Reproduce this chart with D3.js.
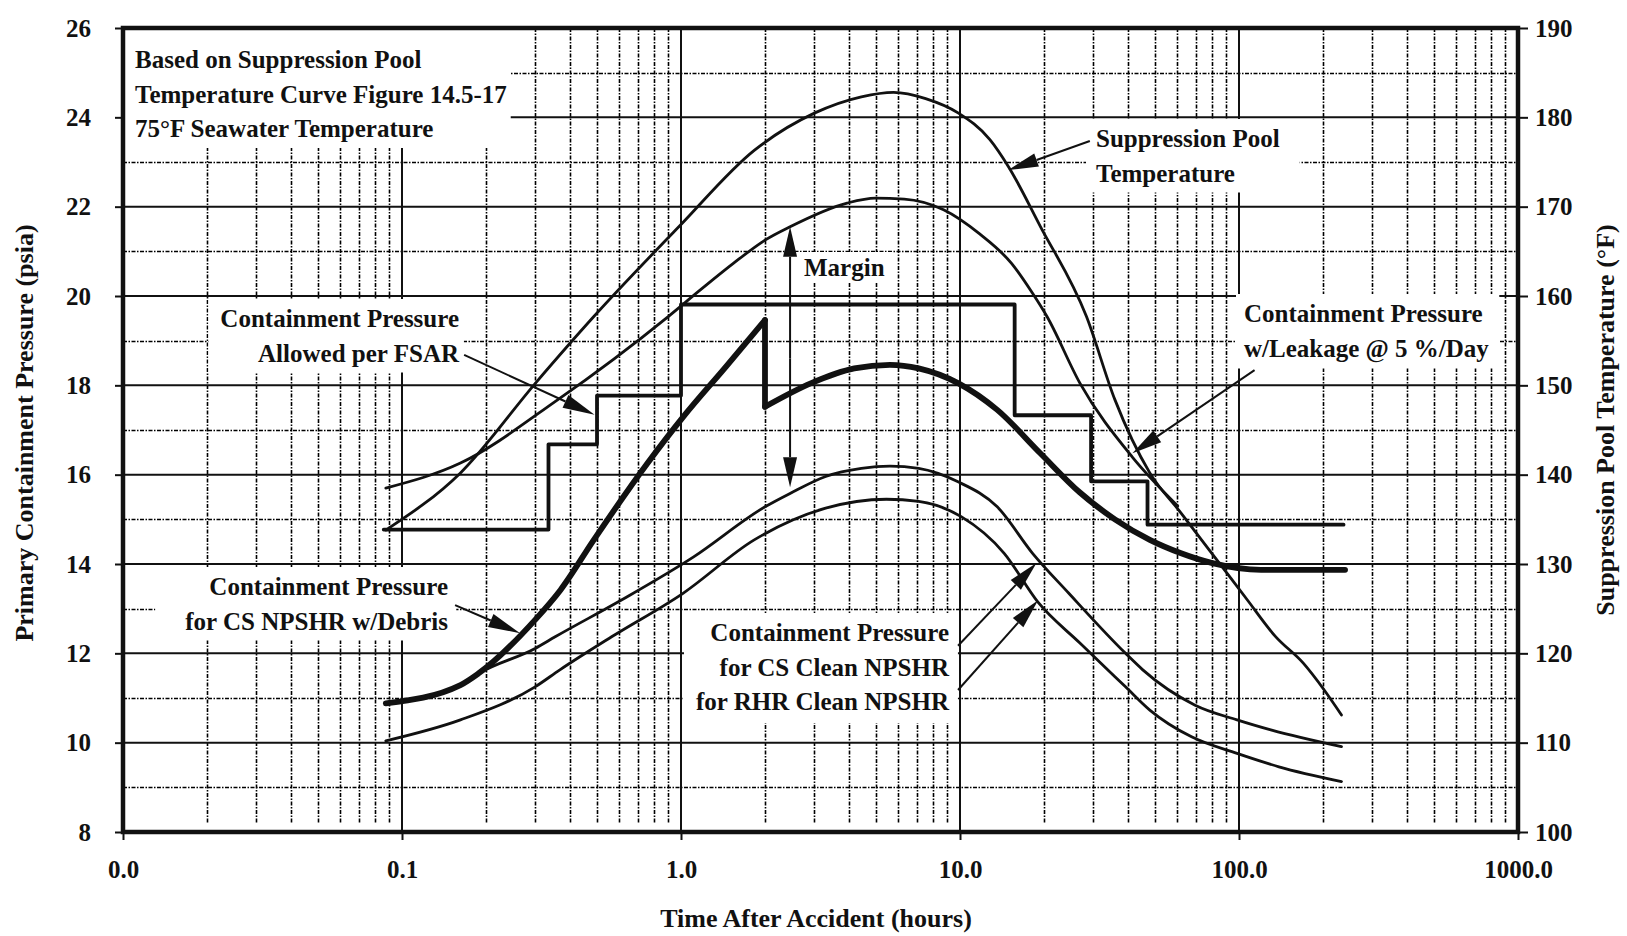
<!DOCTYPE html>
<html>
<head>
<meta charset="utf-8">
<script src="https://cdn.jsdelivr.net/npm/d3@7"></script>
<style>
  body { margin: 0; background: #fff; }
  svg text { font-family: "Liberation Serif", "Times New Roman", serif; font-weight: bold; fill: #111; }
</style>
</head>
<body>
<svg id="chart" width="1627" height="936"></svg>
<script>
// values (hours after accident)
const tempHours = [0.0875, 0.162, 0.30, 0.487, 0.986, 1.83, 3.02, 4.43, 5.78, 7.53, 9.84, 12.8, 14.9, 19.4, 28.4, 35.9, 47.9, 62, 85, 107, 135, 170, 202, 233];
const tempF = [133.8, 140.2, 150.2, 157.7, 167.8, 176.3, 180.5, 182.3, 182.8, 182.1, 180.5, 177.5, 174.5, 167.8, 157.7, 148.4, 140.2, 135.7, 130.1, 126.0, 121.9, 118.9, 115.9, 113.1];

const leakHours = [0.0875, 0.162, 0.36, 0.90, 1.17, 1.54, 2.0, 2.46, 3.94, 4.98, 6.31, 8.73, 11.7, 15.3, 18.2, 20.5, 26.9, 41.4, 60.3];
const leakPsia = [15.70, 16.26, 17.67, 19.54, 20.13, 20.73, 21.25, 21.55, 22.08, 22.19, 22.17, 21.93, 21.40, 20.73, 20.06, 19.54, 18.05, 16.40, 15.30];

const debrisHours = [0.0875, 0.162, 0.188, 0.30, 0.37, 0.487, 0.757, 1.02, 1.45, 2.0, 2.0, 2.93, 4.18, 5.61, 7.11, 9.84, 13.6, 19.4, 26.9, 35.9, 47.9, 62, 80.3, 120, 240];
const debrisPsia = [10.88, 11.29, 11.55, 12.75, 13.42, 14.54, 16.25, 17.30, 18.42, 19.46, 17.52, 18.05, 18.38, 18.46, 18.38, 18.05, 17.45, 16.48, 15.60, 15.00, 14.54, 14.24, 14.02, 13.87, 13.87];

const csHours = [0.0875, 0.162, 0.188, 0.30, 0.354, 0.614, 1.11, 2.0, 2.46, 3.3, 4.43, 5.61, 7.11, 9.84, 13.6, 18.2, 24.5, 39.2, 45.2, 69.6, 98.4, 131, 233];
const csPsia = [10.88, 11.29, 11.55, 12.11, 12.37, 13.2, 14.16, 15.28, 15.58, 15.96, 16.14, 16.19, 16.14, 15.84, 15.28, 14.24, 13.35, 12.0, 11.63, 10.84, 10.51, 10.28, 9.91];

const rhrHours = [0.0875, 0.162, 0.30, 0.368, 0.564, 1.02, 1.83, 3.3, 5.45, 7.11, 10.1, 14.4, 19.0, 26.9, 39.2, 47.9, 67.6, 98.4, 139, 233];
const rhrPsia = [10.04, 10.51, 11.25, 11.63, 12.37, 13.35, 14.54, 15.25, 15.45, 15.40, 15.06, 14.24, 13.15, 12.23, 11.25, 10.73, 10.13, 9.76, 9.46, 9.13];

// allowed pressure is a staircase: each value holds until the next hour
const fsarHours = [0.086, 0.335, 0.50, 1.0, 15.7, 29.5, 47, 237];
const fsarPsia = [14.77, 16.68, 17.77, 19.81, 17.33, 15.85, 14.88, 14.88];

const xTickValues = [0.01, 0.1, 1, 10, 100, 1000];
const psiaTicks = [8, 10, 12, 14, 16, 18, 20, 22, 24, 26];
const degFTicks = [100, 110, 120, 130, 140, 150, 160, 170, 180, 190];

const width = 1627, height = 936;
const plot = { left: 123, right: 1518, top: 28, bottom: 832 };

const svg = d3.select("#chart");
svg.append("rect").attr("width", width).attr("height", height).attr("fill", "white");

const x = d3.scaleLog().domain([0.01, 1000]).range([plot.left, plot.right]);
const y = d3.scaleLinear().domain([8, 26]).range([plot.bottom, plot.top]);
const yT = d3.scaleLinear().domain([100, 190]).range([plot.bottom, plot.top]);

const zip = (a, b) => a.map((v, i) => [v, b[i]]);
const snap = v => Math.round(v) + 0.5;

// Grid
const grid = svg.append("g");
const minorX = x.ticks().filter(v => !xTickValues.includes(v));
const minorY = y.ticks(18).filter(v => !psiaTicks.includes(v));

grid.selectAll("line.mx").data(minorX).enter().append("line")
    .attr("x1", d => snap(x(d))).attr("x2", d => snap(x(d)))
    .attr("y1", plot.top).attr("y2", plot.bottom - 8)
    .attr("stroke", "#000").attr("stroke-width", 1.6).attr("stroke-dasharray", "4,1.5,1.5,1.5");
grid.selectAll("line.my").data(minorY).enter().append("line")
    .attr("x1", plot.left).attr("x2", plot.right)
    .attr("y1", d => snap(y(d))).attr("y2", d => snap(y(d)))
    .attr("stroke", "#000").attr("stroke-width", 1.6).attr("stroke-dasharray", "4,1.5,1.5,1.5");
grid.selectAll("line.Mx").data(xTickValues).enter().append("line")
    .attr("x1", d => x(d)).attr("x2", d => x(d))
    .attr("y1", plot.top).attr("y2", plot.bottom)
    .attr("stroke", "#111").attr("stroke-width", 2);
grid.selectAll("line.My").data(psiaTicks).enter().append("line")
    .attr("x1", plot.left).attr("x2", plot.right)
    .attr("y1", d => y(d)).attr("y2", d => y(d))
    .attr("stroke", "#111").attr("stroke-width", 2);

// Label boxes mask the grid, then labels go on top
const boxLayer = svg.append("g");
const curveLayer = svg.append("g");
const textLayer = svg.append("g");

function label(lines, px, py, anchor, pad) {
    const t = textLayer.append("text")
        .attr("x", px).attr("text-anchor", anchor)
        .attr("font-size", 25);
    lines.forEach((s, i) => {
        t.append("tspan").attr("x", px).attr("y", py + i * 34.5).text(s);
    });
    const b = t.node().getBBox();
    const p = Object.assign({ l: 8, r: 8, t: 6, b: 6 }, pad || {});
    boxLayer.append("rect")
        .attr("x", b.x - p.l).attr("y", b.y - p.t)
        .attr("width", b.width + p.l + p.r).attr("height", b.height + p.t + p.b)
        .attr("fill", "white");
}

label(["Based on Suppression Pool", "Temperature Curve Figure 14.5-17", "75°F Seawater Temperature"], 135, 68, "start", { l: 14, t: 24, r: 4 });
label(["Suppression Pool", "Temperature"], 1096, 147, "start", { l: 10, r: 20 });
label(["Margin"], 804, 276, "start", { t: 2, b: 2 });
label(["Containment Pressure", "Allowed per FSAR"], 459, 327, "end", { l: 12, r: 4 });
label(["Containment Pressure", "w/Leakage @ 5 %/Day"], 1244, 322, "start", { l: 8, r: 10 });
label(["Containment Pressure", "for CS NPSHR w/Debris"], 448, 595, "end", { l: 30, r: 8 });
label(["Containment Pressure", "for CS Clean NPSHR", "for RHR Clean NPSHR"], 949, 641, "end", { l: 12, r: 8, b: 8 });

// Curves
const line = d3.line().x(d => x(d[0])).y(d => y(d[1])).curve(d3.curveMonotoneX);
const lineT = d3.line().x(d => x(d[0])).y(d => yT(d[1])).curve(d3.curveMonotoneX);

function draw(path, w) {
    curveLayer.append("path").attr("d", path)
        .attr("fill", "none").attr("stroke", "#111")
        .attr("stroke-width", w).attr("stroke-linejoin", "round").attr("stroke-linecap", "round");
}

draw(lineT(zip(tempHours, tempF)), 2.8);
draw(line(zip(leakHours, leakPsia)), 2.8);
draw(line(zip(csHours, csPsia)), 2.8);
draw(line(zip(rhrHours, rhrPsia)), 2.8);

const stepLine = d3.line().x(d => x(d[0])).y(d => y(d[1])).curve(d3.curveStepAfter);
draw(stepLine(zip(fsarHours, fsarPsia)), 3.8);

// debris curve has a sudden drop, draw it in three pieces
const debris = zip(debrisHours, debrisPsia);
const cut = debrisHours.findIndex((h, i) => i > 0 && h === debrisHours[i - 1]);
draw(line(debris.slice(0, cut)), 5.8);
draw(d3.line().x(d => x(d[0])).y(d => y(d[1]))(debris.slice(cut - 1, cut + 1)), 5.8);
draw(line(debris.slice(cut)), 5.8);

// Arrows
function arrow(from, to, len, half, w) {
    const x1 = x(from[0]), y1 = y(from[1]), x2 = x(to[0]), y2 = y(to[1]);
    const a = Math.atan2(y2 - y1, x2 - x1);
    const bx = x2 - len * Math.cos(a), by = y2 - len * Math.sin(a);
    const px = -Math.sin(a) * half, py = Math.cos(a) * half;
    textLayer.append("line")
        .attr("x1", x1).attr("y1", y1).attr("x2", bx).attr("y2", by)
        .attr("stroke", "#111").attr("stroke-width", w);
    textLayer.append("path")
        .attr("d", `M${x2},${y2}L${bx + px},${by + py}L${bx - px},${by - py}Z`)
        .attr("fill", "#111");
}

arrow([29.2, 23.47], [14.9, 22.82], 30, 7, 2);
arrow([0.167, 18.68], [0.49, 17.34], 32, 7, 2);
arrow([113.7, 18.34], [41.5, 16.48], 30, 7, 2);
arrow([0.155, 13.08], [0.265, 12.45], 32, 7, 2);
arrow([9.84, 12.17], [18.8, 14.02], 30, 7, 2);
arrow([9.84, 11.18], [19.05, 13.19], 30, 7, 2);
// margin between leakage curve and CS clean curve
arrow([2.46, 18.6], [2.46, 21.55], 30, 7, 2);
arrow([2.46, 18.6], [2.46, 15.72], 30, 7, 2);

// Axes
const axisFont = g => g.attr("font-size", 25).attr("font-family", null);

svg.append("g")
    .attr("transform", `translate(${plot.left},0)`)
    .call(d3.axisLeft(y).tickValues(psiaTicks).tickSize(8).tickPadding(24))
    .call(axisFont)
    .call(g => g.select(".domain").remove())
    .call(g => g.selectAll(".tick line").attr("stroke", "#111").attr("stroke-width", 2));

svg.append("g")
    .attr("transform", `translate(${plot.right},0)`)
    .call(d3.axisRight(yT).tickValues(degFTicks).tickSize(10).tickPadding(7))
    .call(axisFont)
    .call(g => g.select(".domain").remove())
    .call(g => g.selectAll(".tick line").attr("stroke", "#111").attr("stroke-width", 2));

svg.append("g")
    .attr("transform", `translate(0,${plot.bottom})`)
    .call(d3.axisBottom(x).tickValues(xTickValues).tickFormat(d3.format(".1f")).tickSize(8).tickPadding(20))
    .call(axisFont)
    .call(g => g.select(".domain").remove())
    .call(g => g.selectAll(".tick line").attr("stroke", "#111").attr("stroke-width", 2));

// Frame
svg.append("rect")
    .attr("x", plot.left).attr("y", plot.top)
    .attr("width", plot.right - plot.left).attr("height", plot.bottom - plot.top)
    .attr("fill", "none").attr("stroke", "#111").attr("stroke-width", 4.5);

// Axis titles
svg.append("text")
    .attr("transform", "translate(33,433) rotate(-90)")
    .attr("text-anchor", "middle").attr("font-size", 26)
    .text("Primary Containment Pressure (psia)");

svg.append("text")
    .attr("transform", "translate(1614,420) rotate(-90)")
    .attr("text-anchor", "middle").attr("font-size", 26)
    .text("Suppression Pool Temperature (°F)");

svg.append("text")
    .attr("x", 816).attr("y", 927)
    .attr("text-anchor", "middle").attr("font-size", 26)
    .text("Time After Accident (hours)");
</script>
</body>
</html>
